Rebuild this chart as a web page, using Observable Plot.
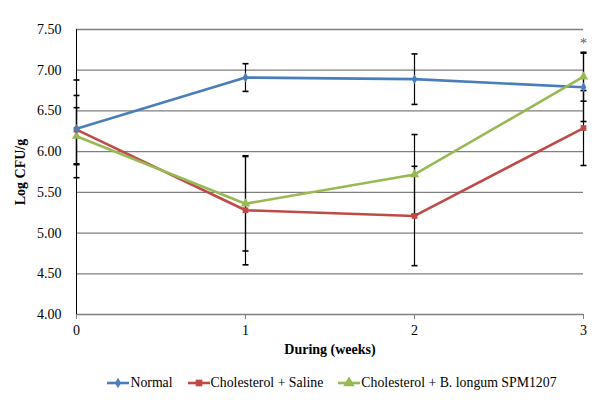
<!DOCTYPE html>
<html>
<head>
<meta charset="utf-8">
<script src="https://cdn.jsdelivr.net/npm/d3@7"></script>
<script src="https://cdn.jsdelivr.net/npm/@observablehq/plot@0.6"></script>
<style>
  html, body { margin: 0; padding: 0; background: #fff; }
  #chart { width: 600px; }
  g[aria-label="y-axis label"] text, g[aria-label="x-axis label"] text { font-weight: bold; }
  #legend { display: flex; justify-content: center; align-items: center; height: 35px; gap: 15px;
            font-family: "Liberation Serif", "Times New Roman", serif; font-size: 13.8px; color: #000; padding-left: 64px; width: 536px; }
  #legend .item { display: flex; align-items: center; }
  #legend svg { margin-right: 1px; }
</style>
</head>
<body>
<div id="chart"></div>
<script>
// ---- data ----
const weeks = [0, 1, 2, 3];
const normalMean = [6.28, 6.91, 6.89, 6.79];
const normalErr  = [0.60, 0.17, 0.31, 0.42];
const salineMean = [6.27, 5.28, 5.21, 6.29];
const salineErr  = [0.42, 0.67, 0.61, 0.46];
const bifidoMean = [6.19, 5.36, 5.72, 6.92];
const bifidoErr  = [0.35, 0.58, 0.49, 0.30];
const seriesNames = ["Normal", "Cholesterol + Saline", "Cholesterol + B. longum SPM1207"];
const seriesColors = ["#4a7ebb", "#be4b48", "#98b954"];
const seriesSymbols = ["diamond", "square", "triangle"];
const seriesRadius = [3.6, 4.2, 4.8];
const yTicks = [4.0, 4.5, 5.0, 5.5, 6.0, 6.5, 7.0, 7.5];
const xTicks = [0, 1, 2, 3];
const significantWeeks = [3];

const means = [normalMean, salineMean, bifidoMean];
const errs = [normalErr, salineErr, bifidoErr];
const rows = [];
seriesNames.forEach((s, i) => weeks.forEach((w, j) => rows.push({
  series: s, week: w, mean: means[i][j], lo: means[i][j] - errs[i][j], hi: means[i][j] + errs[i][j]
})));
const sig = significantWeeks.map(w => ({week: w, top: d3.max(rows.filter(r => r.week === w), r => r.hi)}));

const capSymbol = {draw(ctx, size) { const r = Math.sqrt(size / Math.PI); ctx.moveTo(-r, 0); ctx.lineTo(r, 0); }};

const plot = Plot.plot({
  width: 600, height: 365,
  marginLeft: 76, marginRight: 17, marginTop: 29, marginBottom: 51,
  style: {fontFamily: "'Liberation Serif', 'Times New Roman', serif", fontSize: "14px", color: "#000", background: "#fff"},
  x: {domain: [0, 3]},
  y: {domain: [4, 7.5]},
  color: {domain: seriesNames, range: seriesColors},
  symbol: {domain: seriesNames, range: seriesSymbols},
  marks: [
    Plot.gridY(yTicks, {stroke: "#7f7f7f", strokeOpacity: 1, strokeWidth: 1.3}),
    Plot.axisY({ticks: yTicks, tickFormat: d => d.toFixed(2), tickSize: 0, tickPadding: 15,
      label: "Log CFU/g", labelAnchor: "center", labelArrow: "none", labelOffset: 61}),
    Plot.axisX({ticks: xTicks, tickFormat: d => String(d), tickSize: 5, tickPadding: 6, stroke: "#7f7f7f",
      label: "During (weeks)", labelAnchor: "center", labelArrow: "none", labelOffset: 39}),
    Plot.ruleX([0], {stroke: "#000", strokeWidth: 1}),
    Plot.line(rows, {x: "week", y: "mean", z: "series", stroke: "series", strokeWidth: 2.6}),
    Plot.ruleX(rows, {x: "week", y1: "lo", y2: "hi", stroke: "#000", strokeWidth: 1.2}),
    Plot.dot(rows, {x: "week", y: "lo", symbol: () => capSymbol, r: 3, stroke: "#000", strokeWidth: 1.6}),
    Plot.dot(rows, {x: "week", y: "hi", symbol: () => capSymbol, r: 3, stroke: "#000", strokeWidth: 1.6}),
    Plot.dot(rows, {x: "week", y: "mean", fill: "series", symbol: "series",
      r: d => seriesRadius[seriesNames.indexOf(d.series)], stroke: "none"}),
    Plot.text(sig, {x: "week", y: "top", text: () => "*", dy: -9, fill: "#555", fontSize: 14})
  ]
});
document.getElementById("chart").appendChild(plot);

// legend (HTML, below the SVG)
const legend = d3.select("body").append("div").attr("id", "legend");
seriesNames.forEach((name, i) => {
  const item = legend.append("div").attr("class", "item");
  const sw = item.append("svg").attr("width", 22).attr("height", 12);
  sw.append("line").attr("x1", 0).attr("x2", 22).attr("y1", 6).attr("y2", 6)
    .attr("stroke", seriesColors[i]).attr("stroke-width", 2.6);
  const sym = {diamond: d3.symbolDiamond, square: d3.symbolSquare, triangle: d3.symbolTriangle}[seriesSymbols[i]];
  sw.append("path").attr("transform", "translate(11,6)")
    .attr("d", d3.symbol(sym, Math.PI * seriesRadius[i] * seriesRadius[i] * 0.8)())
    .attr("fill", seriesColors[i]);
  item.append("span").text(name);
});
</script>
</body>
</html>
